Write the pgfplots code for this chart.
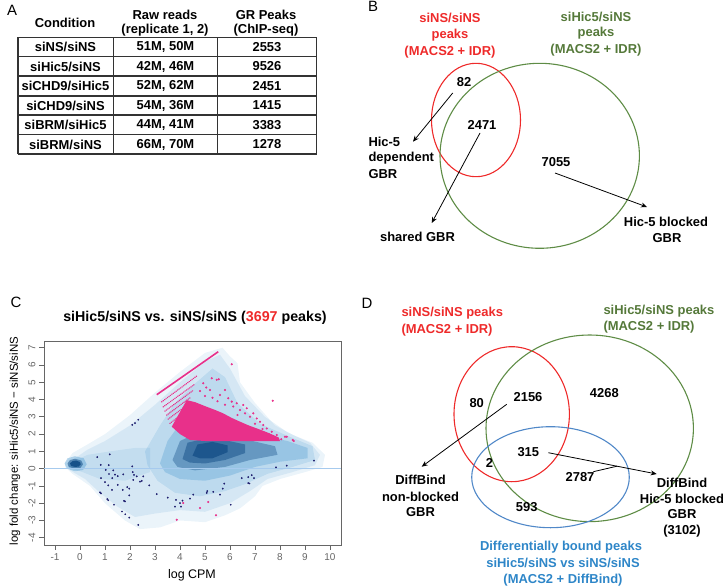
\documentclass[border=0pt]{standalone}
\usepackage{pgfplots}
\pgfplotsset{compat=1.18}
\usepackage{fontspec}
\setmainfont{Liberation Sans}
\usetikzlibrary{arrows.meta}
\definecolor{vred}{HTML}{EE2A2A}
\definecolor{vgreen}{HTML}{55793A}
\definecolor{vgreenline}{HTML}{5E8C45}
\definecolor{vblue}{HTML}{2E86C8}
\definecolor{vblueline}{HTML}{5088C8}
\definecolor{mapink}{HTML}{E8308A}
\definecolor{manavy}{HTML}{1E1E6E}
\definecolor{densa}{HTML}{3A90CC}
\definecolor{densb}{HTML}{0A4580}
\definecolor{zline}{HTML}{A6CAEE}
\newcommand{\B}{\fontsize{13}{15}\selectfont\bfseries}
\newcommand{\Pl}{\fontsize{15}{17}\selectfont}
\begin{document}
\begin{tikzpicture}
\begin{axis}[name=canvas, at={(0,0)}, anchor=south west, width=724bp, height=587bp,
  scale only axis, xmin=0, xmax=724, ymin=0, ymax=587, y dir=reverse,
  hide axis, clip=false, no markers]
% ---------- Panel A : table ----------
\node[font=\Pl] at (axis cs:12,10) {A};
\node[font=\B] at (axis cs:65,23) {Condition};
\node[font=\B] at (axis cs:165,15) {Raw reads};
\node[font=\B] at (axis cs:165,30) {(replicate 1, 2)};
\node[font=\B] at (axis cs:266,15) {GR Peaks};
\node[font=\B] at (axis cs:266,30) {(ChIP-seq)};
\addplot[black!80, line width=1.1pt] coordinates {(18,37.3) (316.7,37.3)};
\addplot[black!80, line width=1.1pt] coordinates {(18,56.7) (316.7,56.7)};
\addplot[black!80, line width=1.1pt] coordinates {(18,76) (316.7,76)};
\addplot[black!80, line width=1.1pt] coordinates {(18,96) (316.7,96)};
\addplot[black!80, line width=1.1pt] coordinates {(18,115) (316.7,115)};
\addplot[black!80, line width=1.1pt] coordinates {(18,134.3) (316.7,134.3)};
\addplot[black!80, line width=1.1pt] coordinates {(18,154) (316.7,154)};
\addplot[black!80, line width=1.1pt] coordinates {(18,37.3) (18,154)};
\addplot[black!80, line width=1.1pt] coordinates {(113.3,37.3) (113.3,154)};
\addplot[black!80, line width=1.1pt] coordinates {(217.7,37.3) (217.7,154)};
\addplot[black!80, line width=1.1pt] coordinates {(316.7,37.3) (316.7,154)};
\node[font=\B] at (axis cs:65.5,47) {siNS/siNS};
\node[font=\B] at (axis cs:65.5,66.5) {siHic5/siNS};
\node[font=\B] at (axis cs:65.5,86) {siCHD9/siHic5};
\node[font=\B] at (axis cs:65.5,105.5) {siCHD9/siNS};
\node[font=\B] at (axis cs:65.5,125) {siBRM/siHic5};
\node[font=\B] at (axis cs:65.5,144.5) {siBRM/siNS};
\node[font=\B] at (axis cs:165.5,47) {51M, 50M};
\node[font=\B] at (axis cs:165.5,66.5) {42M, 46M};
\node[font=\B] at (axis cs:165.5,86) {52M, 62M};
\node[font=\B] at (axis cs:165.5,105.5) {54M, 36M};
\node[font=\B] at (axis cs:165.5,125) {44M, 41M};
\node[font=\B] at (axis cs:165.5,144.5) {66M, 70M};
\node[font=\B] at (axis cs:267,47) {2553};
\node[font=\B] at (axis cs:267,66.5) {9526};
\node[font=\B] at (axis cs:267,86) {2451};
\node[font=\B] at (axis cs:267,105.5) {1415};
\node[font=\B] at (axis cs:267,125) {3383};
\node[font=\B] at (axis cs:267,144.5) {1278};
% ---------- Panel B ----------
\node[font=\Pl] at (axis cs:373,6) {B};
\draw[vred, line width=1.1pt] (axis cs:476,120) ellipse [x radius=44.5bp, y radius=56.7bp];
\draw[vgreenline, line width=1.1pt] (axis cs:539.7,155.8) ellipse [x radius=99.7bp, y radius=92.5bp];
\node[font=\B, text=vred] at (axis cs:450,18) {siNS/siNS};
\node[font=\B, text=vred] at (axis cs:450,35) {peaks};
\node[font=\B, text=vred] at (axis cs:450,52) {(MACS2 + IDR)};
\node[font=\B, text=vgreen] at (axis cs:596,17) {siHic5/siNS};
\node[font=\B, text=vgreen] at (axis cs:596,33) {peaks};
\node[font=\B, text=vgreen] at (axis cs:596,50) {(MACS2 + IDR)};
\node[font=\B] at (axis cs:464,82) {82};
\node[font=\B] at (axis cs:482,125) {2471};
\node[font=\B] at (axis cs:556,162) {7055};
\node[font=\B, anchor=west] at (axis cs:365,142) {Hic-5};
\node[font=\B, anchor=west] at (axis cs:365,158) {dependent};
\node[font=\B, anchor=west] at (axis cs:365,174) {GBR};
\node[font=\B] at (axis cs:417.5,237) {shared GBR};
\node[font=\B] at (axis cs:666,222) {Hic-5 blocked};
\node[font=\B] at (axis cs:667,238) {GBR};
\addplot[black, line width=0.8pt, -{Stealth[length=6bp,width=5bp]}] coordinates {(452.7,93) (413,141.7)};
\addplot[black, line width=0.8pt, -{Stealth[length=6bp,width=5bp]}] coordinates {(480,133) (431.7,223)};
\addplot[black, line width=0.8pt, -{Stealth[length=6bp,width=5bp]}] coordinates {(555,173) (647,207)};
% ---------- Panel C labels ----------
\node[font=\Pl] at (axis cs:16,302) {C};
\node[font=\fontsize{14.3}{16}\selectfont\bfseries] at (axis cs:195,318) {siHic5/siNS vs. siNS/siNS (\textcolor{vred}{3697} peaks)};
\node[rotate=90, font=\fontsize{11.5}{13}\selectfont] at (axis cs:15,441) {log fold change: siHic5/siNS − siNS/siNS};
\node[font=\fontsize{12.5}{14}\selectfont] at (axis cs:192,575) {log CPM};
% ---------- Panel D ----------
\node[font=\Pl] at (axis cs:367,303) {D};
\draw[vred, line width=1.1pt] (axis cs:511.7,414.2) ellipse [x radius=57.7bp, y radius=67.5bp];
\draw[vgreenline, line width=1.1pt] (axis cs:589.7,428.3) ellipse [x radius=103.7bp, y radius=93.3bp];
\draw[vblueline, line width=1.1pt] (axis cs:550.5,477.2) ellipse [x radius=78.8bp, y radius=50.5bp];
\node[font=\B, text=vred, anchor=west] at (axis cs:398,313.3) {siNS/siNS peaks};
\node[font=\B, text=vred, anchor=west] at (axis cs:398,330) {(MACS2 + IDR)};
\node[font=\B, text=vgreen, anchor=west] at (axis cs:600,310.7) {siHic5/siNS peaks};
\node[font=\B, text=vgreen, anchor=west] at (axis cs:600,327.3) {(MACS2 + IDR)};
\node[font=\B] at (axis cs:476.7,403.3) {80};
\node[font=\B] at (axis cs:528,397.3) {2156};
\node[font=\B] at (axis cs:604.3,392.7) {4268};
\node[font=\B] at (axis cs:528.3,451.7) {315};
\node[font=\B] at (axis cs:489.5,463.3) {2};
\node[font=\B] at (axis cs:580,476.7) {2787};
\node[font=\B] at (axis cs:526.7,506.7) {593};
\node[font=\B] at (axis cs:420.5,480) {DiffBind};
\node[font=\B] at (axis cs:420.5,496.7) {non-blocked};
\node[font=\B] at (axis cs:420.5,511.7) {GBR};
\node[font=\B] at (axis cs:682,482.7) {DiffBind};
\node[font=\B] at (axis cs:682,499.3) {Hic-5 blocked};
\node[font=\B] at (axis cs:682,514.3) {GBR};
\node[font=\B] at (axis cs:682,531) {(3102)};
\node[font=\B, text=vblue] at (axis cs:561,546.7) {Differentially bound peaks};
\node[font=\B, text=vblue] at (axis cs:563,563.3) {siHic5/siNS vs siNS/siNS};
\node[font=\B, text=vblue] at (axis cs:563,580) {(MACS2 + DiffBind)};
\addplot[black, line width=0.8pt, -{Stealth[length=6bp,width=5bp]}] coordinates {(506.7,404.3) (421.7,466.7)};
\addplot[black, line width=0.8pt, -{Stealth[length=6bp,width=5bp]}] coordinates {(548.3,452.7) (656.7,474)};
\addplot[black, line width=0.8pt] coordinates {(593.3,471.7) (617,466.2)};
\end{axis}
% ---------- Panel C : MA plot ----------
\begin{axis}[at={(44bp,42bp)}, anchor=south west, width=297bp, height=204bp, scale only axis,
  xmin=-1.44, xmax=10.44, ymin=-4.42, ymax=7.39,
  xtick={-1,0,...,10}, ytick={-4,-3,...,7},
  xtick pos=bottom, ytick pos=left, tick align=outside,
  major tick length=5bp,
  axis line style={black!60, line width=0.8pt},
  tick style={black!60, line width=0.7pt},
  /pgf/number format/assume math mode=true,
  ticklabel style={font=\fontsize{10}{12}\selectfont, text=black!60},
  yticklabel style={rotate=90, anchor=south},
  clip=true]
% smoothed density: nested translucent layers
\addplot[fill=densa, fill opacity=0.10, draw=none] coordinates {(-0.6,0.3) (-0.3,0.9) (0.3,1.4) (1,2.0) (2,3.1) (3,4.4) (4,5.6) (5,6.7) (5.7,7.0) (6.0,6.5) (6.3,6.1) (6.4,5.0) (7,3.8) (7.8,2.5) (8.6,1.9) (9.3,1.5) (9.8,0.8) (9.7,0.1) (9.0,-0.2) (8.0,-0.6) (7.3,-1.0) (7.0,-1.6) (6.4,-2.3) (5.8,-2.7) (5.0,-3.1) (4.0,-3.0) (3.2,-3.4) (2.4,-3.5) (1.8,-3.0) (1.0,-2.0) (0.4,-1.0) (-0.3,-0.3) (-0.6,0.1)} --cycle;
\addplot[fill=densa, fill opacity=0.12, draw=none] coordinates {(-0.5,0.3) (0.3,1.1) (1,1.6) (2,2.5) (3,3.7) (4,5.0) (5,6.2) (5.6,6.6) (6,5.8) (6.6,4.2) (7.4,3.0) (8.3,2.1) (9.2,1.5) (9.6,0.8) (9.4,0.2) (8.5,-0.2) (7.5,-0.6) (6.8,-1.3) (6,-2.0) (5,-2.5) (4,-2.4) (3,-2.6) (2.2,-2.8) (1.5,-2.2) (0.8,-1.4) (0.2,-0.6) (-0.4,-0.1)} --cycle;
\addplot[fill=densa, fill opacity=0.16, draw=none] coordinates {(2.6,1.0) (3.2,2.5) (3.8,3.8) (4.5,4.8) (5.3,5.8) (5.8,5.3) (6.3,3.8) (7.2,2.6) (8.3,1.9) (9.3,1.3) (9.4,0.5) (8.5,0.1) (7.5,-0.3) (6.6,-0.9) (5.8,-1.3) (4.8,-1.6) (3.8,-1.4) (3.1,-0.7) (2.7,0.2)} --cycle;
\addplot[fill=densa, fill opacity=0.12, draw=none] coordinates {(-0.45,0.3) (0.3,0.8) (1.2,1.0) (2.2,1.2) (2.8,1.2) (2.8,-0.2) (1.8,-0.7) (0.8,-0.6) (0.1,-0.2) (-0.45,0.05)} --cycle;
\addplot[fill=densa, fill opacity=0.28, draw=none] coordinates {(3.2,0.3) (3.5,1.6) (4.0,2.6) (4.8,3.0) (6,2.5) (7,2.0) (8.3,1.6) (9.1,1.2) (9.1,0.6) (8,0.4) (7,0.1) (6,-0.4) (5,-0.7) (4,-0.6) (3.4,-0.2)} --cycle;
\addplot[fill=densb, fill opacity=0.35, draw=none] coordinates {(3.7,0.5) (4.0,1.6) (4.6,2.0) (5.6,2.0) (6.6,1.7) (7.8,1.3) (7.9,0.8) (6.8,0.5) (5.8,0.1) (4.6,-0.1) (3.9,0.1)} --cycle;
\addplot[fill=densb, fill opacity=0.45, draw=none] coordinates {(4.1,0.55) (4.3,1.5) (5.0,1.75) (5.8,1.65) (6.6,1.4) (6.6,0.9) (5.8,0.5) (5.0,0.3) (4.4,0.35)} --cycle;
\addplot[fill=densb, fill opacity=0.6, draw=none] coordinates {(4.5,0.75) (4.7,1.4) (5.3,1.55) (5.9,1.35) (5.9,0.95) (5.3,0.6) (4.8,0.6)} --cycle;
% left blob
\addplot[fill=densa, fill opacity=0.35, draw=none] coordinates {(-0.62,0.3) (-0.5,0.6) (-0.2,0.72) (0.15,0.6) (0.27,0.25) (0.12,-0.08) (-0.2,-0.15) (-0.52,0.0)} --cycle;
\addplot[fill=densb, fill opacity=0.5, draw=none] coordinates {(-0.5,0.3) (-0.4,0.5) (-0.2,0.57) (0.05,0.47) (0.12,0.25) (0.02,0.05) (-0.2,0.0) (-0.45,0.1)} --cycle;
\addplot[fill=densb, fill opacity=0.8, draw=none] coordinates {(-0.4,0.3) (-0.3,0.44) (-0.15,0.47) (0.0,0.38) (0.03,0.25) (-0.05,0.12) (-0.2,0.1) (-0.35,0.15)} --cycle;
% zero line
\addplot[zline, line width=1.3pt] coordinates {(-1.44,0) (10.44,0)};
% pink dense region
\addplot[fill=mapink, draw=none] coordinates {(3.67,2.43) (4.0,2.0) (4.4,1.66) (5.0,1.6) (6.0,1.6) (7.0,1.6) (8.0,1.6) (7.95,1.8) (7.73,1.95) (7.4,2.15) (7.07,2.33) (6.75,2.5) (6.4,2.72) (6.05,2.95) (5.73,3.2) (5.4,3.4) (5.07,3.58) (4.6,3.85) (4.27,3.97) (4.05,3.4) (3.85,2.9)} --cycle;
% pink stripes
\addplot[mapink, line width=1.6pt] coordinates {(3.07,4.28) (5.53,6.77)};
\addplot[mapink, line width=1.5pt, line cap=round, dash pattern=on 0.1pt off 1.7pt] coordinates {(3.27,3.87) (4.67,5.36)};
\addplot[mapink, line width=1.5pt, line cap=round, dash pattern=on 0.1pt off 1.7pt] coordinates {(3.33,3.58) (4.6,4.9)};
\addplot[mapink, line width=1.5pt, line cap=round, dash pattern=on 0.1pt off 1.7pt] coordinates {(3.4,3.33) (4.5,4.5)};
\addplot[mapink, line width=1.5pt, line cap=round, dash pattern=on 0.1pt off 1.7pt] coordinates {(3.47,3.1) (4.4,4.1)};
\addplot[mapink, line width=1.5pt, line cap=round, dash pattern=on 0.1pt off 1.7pt] coordinates {(3.53,2.87) (4.3,3.7)};
\addplot[mapink, line width=1.5pt, line cap=round, dash pattern=on 0.1pt off 1.7pt] coordinates {(3.6,2.62) (4.2,3.3)};
% pink sparse points
\addplot[only marks, mark=*, mark size=0.85pt, mapink] coordinates {
(6.07,6.04) (7.71,3.93) (8.27,1.85) (8.2,1.85) (8.51,1.66) (8.55,1.6) (5.27,5.23) (5.47,5.14) (5.55,5.17) (4.93,4.94)
(5.2,4.55) (5.8,4.55) (5.6,4.26) (5.93,4.07) (6.07,3.88) (6.27,3.79) (6.53,3.68) (6.67,3.49) (6.93,3.2) (7.07,2.91)
(7.2,2.72) (7.33,2.52) (7.47,2.33) (7.67,2.14) (7.87,1.95) (6.4,3.4) (6.13,3.6) (5.8,3.7) (5.5,3.9) (5.3,4.1)
(6.8,3.0) (7.0,2.6) (7.55,2.0) (8.05,1.7) (6.6,3.2) (5.0,4.2) (4.8,4.5) (5.05,4.7) (6.3,3.1) (7.3,2.3)
(5.13,-1.93) (4.8,-2.28) (5.44,-2.7) (3.87,-2.96) (4.13,-1.99)};
% navy points
\addplot[only marks, mark=*, mark size=0.7pt, manavy] coordinates {
(7.84,0.07) (8.27,0.17) (9.36,0.46) (6.47,-0.55) (6.73,-0.49) (6.87,-0.38) (6.96,-0.55) (6.73,-0.84) (6.78,-0.86)
(5.77,-0.87) (5.71,-1.16) (5.6,-1.5) (5.33,-1.34) (5.09,-1.3) (5.07,-1.4) (4.53,-1.5) (4.4,-1.73) (6.03,-2.09) (4.1,-1.85)
(2.09,2.54) (2.2,2.64) (2.33,2.83)
(0.69,0.67) (1.19,0.83) (0.83,0.22) (1.15,0.2) (2.09,0.13) (1.03,-0.07) (1.33,-0.1) (1.16,-0.31) (1.4,-0.35) (1.51,-0.43)
(1.73,-0.33) (2.11,-0.2) (2.16,-0.36) (2.27,-0.45) (2.53,-0.45) (0.84,-0.55) (1.29,-0.55) (2.13,-0.65) (2.4,-0.75) (2.47,-0.71)
(2.77,-0.97) (1.0,-0.78) (1.13,-0.97) (1.51,-0.94) (1.71,-1.23) (1.89,-1.07) (1.97,-1.16) (0.8,-1.37) (0.84,-1.43) (1.28,-1.23)
(1.97,-1.55) (1.09,-1.76) (1.13,-1.83) (1.8,-1.9) (1.76,-1.86) (1.36,-2.09) (3.07,-1.47) (3.51,-1.68) (3.84,-1.81) (3.8,-2.2)
(4.04,-2.2) (4.0,-1.99) (1.68,-2.48) (1.81,-2.64) (1.97,-2.83) (2.33,-3.26)};
\end{axis}
\pgfresetboundingbox
\path (0,0) rectangle (724bp,587bp);
\end{tikzpicture}
\end{document}
